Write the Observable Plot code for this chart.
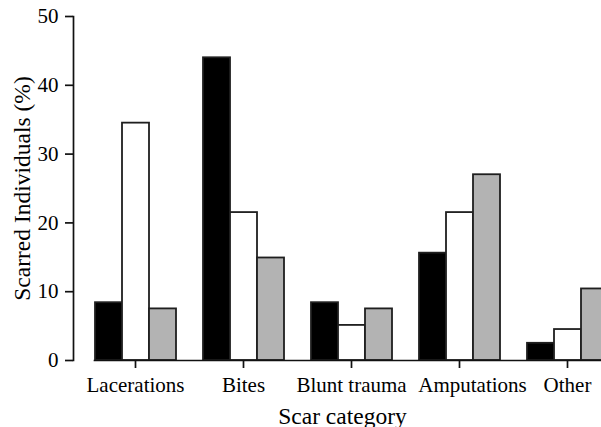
<!DOCTYPE html>
<html><head><meta charset="utf-8">
<script src="https://cdn.jsdelivr.net/npm/d3@7"></script>
<script src="https://cdn.jsdelivr.net/npm/@observablehq/plot@0.6"></script>
<style>
html,body{margin:0;padding:0;background:#fff;overflow:hidden;}
</style></head><body><div id="chart"></div>
<script>
const categories = ["Lacerations", "Bites", "Blunt trauma", "Amputations", "Other"];
const seriesNames = ["Series 1", "Series 2", "Series 3"];
const seriesColors = ["#000000", "#ffffff", "#b3b3b3"];
const series1 = [8.4, 44.0, 8.4, 15.6, 2.5];
const series2 = [34.5, 21.5, 5.1, 21.5, 4.5];
const series3 = [7.5, 14.9, 7.5, 27.0, 10.4];
const yTicks = [0, 10, 20, 30, 40, 50];
const shiftedLabel = ["Amputations"];
const plainLabels = categories.filter(c => !shiftedLabel.includes(c));

const seriesValues = [series1, series2, series3];
const rows = [];
categories.forEach((c, i) => {
  seriesValues.forEach((arr, j) => rows.push({category: c, series: seriesNames[j], value: arr[i]}));
});

const font = "'Liberation Serif', 'Times New Roman', serif";
const chart = Plot.plot({
  width: 601,
  height: 427,
  marginTop: 16,
  marginBottom: 67,
  marginLeft: 73,
  marginRight: -27,
  style: {fontFamily: font, fontSize: "21px", color: "#000", background: "#fff"},
  fx: {domain: categories, paddingInner: 0.245, paddingOuter: 0.19, label: null},
  x: {domain: seriesNames, padding: 0, axis: null},
  y: {domain: [0, 50]},
  color: {domain: seriesNames, range: seriesColors},
  marks: [
    Plot.barY(rows, {fx: "category", x: "series", y: "value", fill: "series", stroke: "#1f1f1f", strokeWidth: 1.8}),
    Plot.frame({facet: "super", anchor: "bottom", stroke: "#111", strokeWidth: 1.7}),
    Plot.frame({facet: "super", anchor: "left", stroke: "#111", strokeWidth: 1.7, dx: -21}),
    Plot.axisY({ticks: yTicks, tickSize: 8, tickPadding: 7, stroke: "#111", strokeWidth: 1.7, fontSize: 21, dx: -21, label: null}),
    Plot.axisFx({anchor: "bottom", tickSize: 8, stroke: "#111", strokeWidth: 1.7, tickFormat: () => "", label: null}),
    Plot.axisFx({anchor: "bottom", ticks: plainLabels, tickSize: 0, tickPadding: 17, fontSize: 21, label: null}),
    Plot.axisFx({anchor: "bottom", ticks: shiftedLabel, tickSize: 0, tickPadding: 17, fontSize: 21, dx: 13, label: null}),
    Plot.text(["Scarred Individuals (%)"], {facet: "super", frameAnchor: "left", textAnchor: "middle", rotate: -90, dx: -72, fontSize: 23.5, fill: "#000"}),
    Plot.text(["Scar category"], {facet: "super", frameAnchor: "bottom", dy: 63, dx: -9, fontSize: 23.5, fill: "#000"})
  ]
});
document.getElementById("chart").appendChild(chart);
</script></body></html>
